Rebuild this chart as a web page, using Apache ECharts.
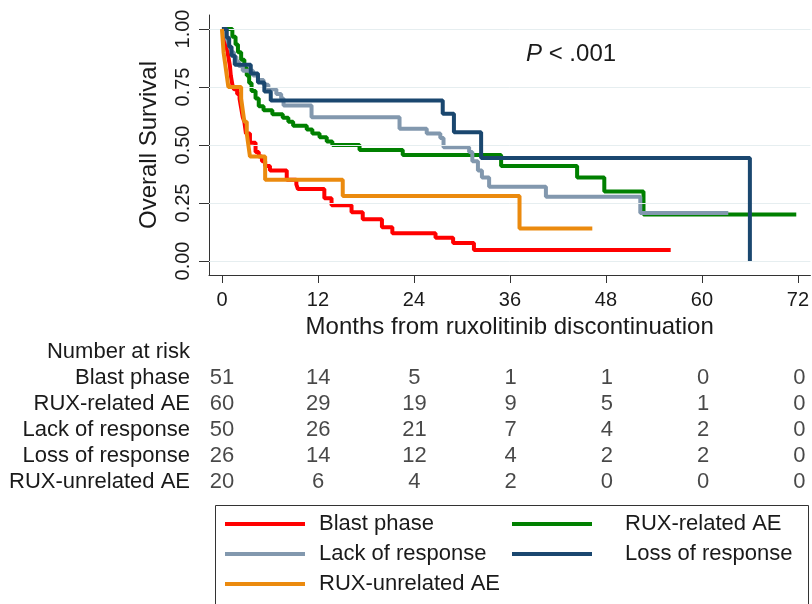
<!DOCTYPE html>
<html>
<head>
<meta charset="utf-8">
<title>Overall survival after ruxolitinib discontinuation</title>
<script src="https://cdn.jsdelivr.net/npm/echarts@6/dist/echarts.min.js"></script>
<style>
  html, body { margin: 0; padding: 0; background: #fff; }
  #chart { width: 812px; height: 604px; }
</style>
</head>
<body>
<div id="chart"></div>
<script>
// Kaplan-Meier steps: [months, survival]
var blastPhase = [[0, 1], [0.3, 0.98], [0.5, 0.96], [0.6, 0.92], [0.8, 0.88], [1.0, 0.84], [1.1, 0.80], [1.3, 0.76],
  [1.5, 0.74], [1.9, 0.72], [2.2, 0.70], [2.4, 0.66], [2.6, 0.62], [2.8, 0.60], [3.0, 0.55], [3.5, 0.51],
  [4.2, 0.47], [4.6, 0.45], [5.0, 0.43], [5.4, 0.41], [6.0, 0.39], [8.1, 0.35], [9.3, 0.33], [9.5, 0.31],
  [12.8, 0.27], [13.7, 0.24], [16.2, 0.21], [17.6, 0.18], [20.0, 0.145], [21.3, 0.12], [26.7, 0.10],
  [28.9, 0.078], [31.5, 0.047], [56.1, 0.047]]
var ruxRelated = [[0, 1], [1.3, 0.967], [1.7, 0.933], [2.0, 0.90], [2.4, 0.867], [2.8, 0.833], [3.1, 0.80],
  [3.4, 0.767], [3.7, 0.733], [4.2, 0.70], [4.6, 0.667], [5.2, 0.65], [6.3, 0.633], [7.6, 0.617], [8.3, 0.60],
  [8.9, 0.583], [10.6, 0.567], [11.3, 0.55], [12.2, 0.533], [13.1, 0.515], [13.8, 0.50], [17.2, 0.478],
  [22.6, 0.457], [34.9, 0.41], [44.4, 0.36], [47.8, 0.30], [52.7, 0.20], [71.8, 0.20]]
var lackResponse = [[0, 1], [0.4, 0.98], [0.6, 0.96], [0.8, 0.94], [1.0, 0.92], [1.2, 0.90], [1.5, 0.88],
  [1.8, 0.86], [2.1, 0.84], [2.6, 0.82], [3.9, 0.80], [4.5, 0.78], [5.2, 0.76], [5.8, 0.74], [6.8, 0.72],
  [7.4, 0.70], [7.7, 0.67], [11.2, 0.62], [22.2, 0.57], [25.6, 0.55], [27.3, 0.53], [27.7, 0.49],
  [30.9, 0.47], [31.3, 0.43], [32.0, 0.39], [32.5, 0.36], [33.4, 0.32], [40.5, 0.277], [52.3, 0.207],
  [63.3, 0.207]]
var lossResponse = [[0, 1], [0.6, 0.962], [0.9, 0.923], [1.2, 0.885], [1.6, 0.846], [3.6, 0.808],
  [4.5, 0.769], [5.3, 0.731], [6.1, 0.692], [27.6, 0.635], [29.0, 0.555], [32.4, 0.444], [66.0, 0]]
var ruxUnrelated = [[0, 1], [0.1, 0.95], [0.2, 0.90], [0.4, 0.85], [0.6, 0.80], [0.8, 0.75], [2.4, 0.70],
  [2.6, 0.65], [2.8, 0.60], [3.1, 0.55], [3.3, 0.50], [3.5, 0.45], [5.4, 0.35], [15.1, 0.28], [37.2, 0.14],
  [46.3, 0.14]]

var groups = ['Blast phase', 'RUX-related AE', 'Lack of response', 'Loss of response', 'RUX-unrelated AE']
var colors = ['#ff0000', '#008000', '#8298ae', '#1a476f', '#eb8a0e']

var xTicks = [0, 12, 24, 36, 48, 60, 72]
var yTicks = [0, 0.25, 0.5, 0.75, 1]

// number at risk table
var riskHeader = 'Number at risk'
var riskTimes = [0, 12, 24, 36, 48, 60, 72]
var riskBlast = [51, 14, 5, 1, 1, 0, 0]
var riskRelated = [60, 29, 19, 9, 5, 1, 0]
var riskLack = [50, 26, 21, 7, 4, 2, 0]
var riskLoss = [26, 14, 12, 4, 2, 2, 0]
var riskUnrelated = [20, 6, 4, 2, 0, 0, 0]

var curves = [blastPhase, ruxRelated, lackResponse, lossResponse, ruxUnrelated]
var riskRows = [riskBlast, riskRelated, riskLack, riskLoss, riskUnrelated]

var font = 'Liberation Sans, Arial, sans-serif'
var ink = '#1a1a1a'
var xMin = -1.62
var xMax = 73.57

var series = [{
  // gridlines only
  type: 'line',
  data: [],
  z: 0,
  markLine: {
    silent: true,
    symbol: 'none',
    label: { show: false },
    lineStyle: { color: '#e6eef0', width: 1, type: 'solid' },
    data: yTicks.map(function (v) { return { yAxis: v } })
  }
}]

curves.forEach(function (d, i) {
  series.push({
    name: groups[i],
    type: 'line',
    step: 'end',
    data: d,
    showSymbol: false,
    z: 2 + i,
    lineStyle: { color: colors[i], width: 4 },
    itemStyle: { color: colors[i] }
  })
})

var riskData = []
riskRows.forEach(function (row, r) {
  row.forEach(function (n, k) {
    riskData.push([riskTimes[k], groups[r], n])
  })
})
series.push({
  type: 'scatter',
  xAxisIndex: 1,
  yAxisIndex: 1,
  symbolSize: 0,
  data: riskData,
  label: {
    show: true,
    position: 'inside',
    formatter: function (p) { return p.value[2] },
    fontFamily: font,
    fontSize: 22,
    color: ink
  }
})

var legendText = function (gap) {
  return { fontFamily: font, fontSize: 22, color: ink, lineHeight: 22, padding: [0, 0, 0, gap] }
}

var option = {
  animation: false,
  backgroundColor: '#fff',
  textStyle: { fontFamily: font, color: ink },
  title: {
    left: 521,
    top: 37,
    text: '{i|P} < .001',
    textStyle: {
      fontFamily: font,
      fontSize: 24,
      fontWeight: 'normal',
      color: ink,
      rich: { i: { fontFamily: font, fontSize: 24, fontStyle: 'italic', color: ink } }
    }
  },
  grid: [
    { left: 209, right: 0, top: 15, height: 260 },
    { left: 209, right: 0, top: 339, height: 156 }
  ],
  xAxis: [{
    type: 'value',
    min: xMin,
    max: xMax,
    name: 'Months from ruxolitinib discontinuation',
    nameLocation: 'middle',
    nameGap: 40,
    nameTextStyle: { fontFamily: font, fontSize: 24, color: ink },
    axisLine: { onZero: false, lineStyle: { color: '#333', width: 1 } },
    axisTick: { show: true, length: 8, customValues: xTicks, lineStyle: { color: '#333' } },
    axisLabel: { customValues: xTicks, margin: 15, fontFamily: font, fontSize: 20, color: ink },
    splitLine: { show: false }
  }, {
    type: 'value',
    gridIndex: 1,
    min: xMin,
    max: xMax,
    show: false
  }],
  yAxis: [{
    type: 'value',
    min: -0.0603,
    max: 1.0603,
    name: 'Overall Survival',
    nameLocation: 'middle',
    nameRotate: 90,
    nameGap: 48,
    nameTextStyle: { fontFamily: font, fontSize: 24, color: ink },
    axisLine: { show: true, onZero: false, lineStyle: { color: '#333', width: 1 } },
    axisTick: { show: true, length: 10, customValues: yTicks, lineStyle: { color: '#333' } },
    axisLabel: {
      customValues: yTicks,
      rotate: 90,
      margin: 16,
      fontFamily: font,
      fontSize: 20,
      color: ink,
      formatter: function (v) { return v.toFixed(2) }
    },
    splitLine: { show: false }
  }, {
    type: 'category',
    gridIndex: 1,
    inverse: true,
    data: [riskHeader].concat(groups),
    axisLine: { show: false },
    axisTick: { show: false },
    axisLabel: { interval: 0, margin: 19, fontFamily: font, fontSize: 22, color: ink },
    splitLine: { show: false }
  }],
  legend: [{
    left: 225,
    top: 513,
    padding: 0,
    orient: 'vertical',
    icon: 'rect',
    itemWidth: 80,
    itemHeight: 4,
    itemGap: 8,
    data: [groups[0], groups[2], groups[4]],
    textStyle: legendText(9)
  }, {
    left: 512,
    top: 513,
    padding: 0,
    orient: 'vertical',
    icon: 'rect',
    itemWidth: 80,
    itemHeight: 4,
    itemGap: 8,
    data: [groups[1], groups[3]],
    textStyle: legendText(28)
  }],
  graphic: [{
    type: 'rect',
    shape: { x: 215.5, y: 505.5, width: 593, height: 120 },
    style: { fill: 'none', stroke: '#333', lineWidth: 1 },
    silent: true
  }],
  series: series
}

var chart = echarts.init(document.getElementById('chart'), null, { renderer: 'canvas' })
chart.setOption(option)
window.addEventListener('resize', function () { chart.resize() })
</script>
</body>
</html>
